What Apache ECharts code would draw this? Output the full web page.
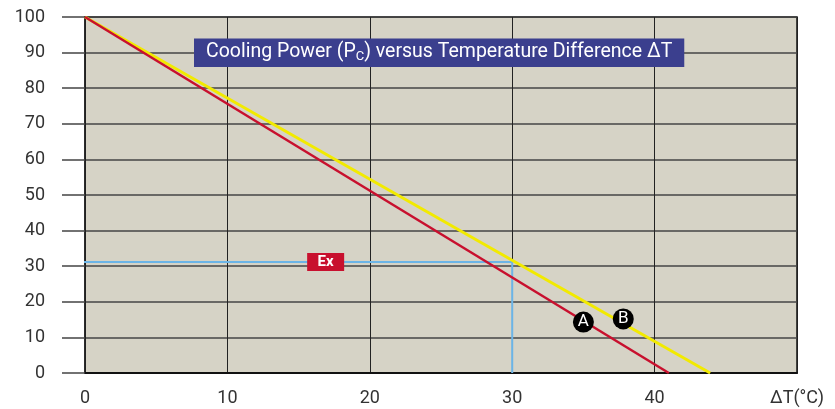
<!DOCTYPE html>
<html><head><meta charset="utf-8">
<script src="https://cdn.jsdelivr.net/npm/echarts@6/dist/echarts.min.js"></script>
<style>html,body{margin:0;padding:0;background:#fff}#c{width:835px;height:409px}</style>
</head><body><div id="c"></div>
<script>
var xTicks = [0, 10, 20, 30, 40, 50];
var xLastLabel = 'ΔT(°C)';
var lineA = [[0, 100], [41, 0]];
var lineB = [[0, 100], [43.9, 0]];
var exPath = [[-2, 31.2], [30, 31.2], [30, 0]];
var exLabel = [[16.9, 31.2]];
var markerA = [[35.0, 14.3]];
var markerB = [[37.8, 15.2]];
var titleText = 'Cooling Power (P{sub|C}) versus Temperature Difference ΔT';
var FONT = 'Roboto, "Liberation Sans", sans-serif';

var chart = echarts.init(document.getElementById('c'));
chart.setOption({
  animation: false,
  grid: {left: 85, right: 38, top: 17, bottom: 36, show: true, backgroundColor: '#d6d3c6', borderColor: '#111', borderWidth: 1.5},
  title: {
    text: titleText, left: 194, top: 38,
    backgroundColor: '#3b3f8e', padding: [4, 12, 4, 12],
    textStyle: {color: '#fff', fontSize: 19.5, fontWeight: 'normal', fontFamily: FONT,
      rich: {sub: {fontSize: 13, color: '#fff', fontFamily: FONT, verticalAlign: 'bottom', padding: [8, 0, 0, 0]}}}
  },
  xAxis: {
    type: 'value', min: 0, max: 50, interval: 10,
    axisLine: {show: true, lineStyle: {color: '#111', width: 2}},
    axisTick: {show: false},
    axisLabel: {margin: 16, fontSize: 18, color: '#333', fontFamily: FONT,
      formatter: function (v) { return v === xTicks[xTicks.length - 1] ? xLastLabel : String(v); }},
    splitLine: {show: true, lineStyle: {color: '#222', width: 1}}
  },
  yAxis: {
    type: 'value', min: 0, max: 100, interval: 10,
    axisLine: {show: true, lineStyle: {color: '#222', width: 1.5}},
    axisTick: {show: true, length: 23, lineStyle: {color: '#444', width: 1.5}},
    axisLabel: {margin: 40, fontSize: 18, color: '#333', fontFamily: FONT},
    splitLine: {show: true, lineStyle: {color: '#444', width: 1.5}}
  },
  series: [
    {type: 'line', data: exPath, clip: false, symbol: 'none', lineStyle: {color: '#6cb4e6', width: 2}, z: 2},
    {type: 'line', data: lineB, symbol: 'none', lineStyle: {color: '#f2ea00', width: 3}, z: 3},
    {type: 'line', data: lineA, symbol: 'none', lineStyle: {color: '#c8102e', width: 2.5}, z: 4},
    {type: 'scatter', data: exLabel, symbol: 'rect', symbolSize: [37, 18], itemStyle: {color: '#c8102e', opacity: 1}, z: 5,
      label: {show: true, position: 'inside', formatter: 'Ex', color: '#fff', fontWeight: 'bold', fontSize: 15, fontFamily: FONT}},
    {type: 'scatter', data: markerA, symbol: 'circle', symbolSize: 21, itemStyle: {color: '#000', opacity: 1}, z: 6,
      label: {show: true, position: 'inside', formatter: 'A', color: '#fff', fontSize: 17, fontFamily: FONT}},
    {type: 'scatter', data: markerB, symbol: 'circle', symbolSize: 21, itemStyle: {color: '#000', opacity: 1}, z: 6,
      label: {show: true, position: 'inside', formatter: 'B', color: '#fff', fontSize: 17, fontFamily: FONT}}
  ]
});
</script></body></html>
